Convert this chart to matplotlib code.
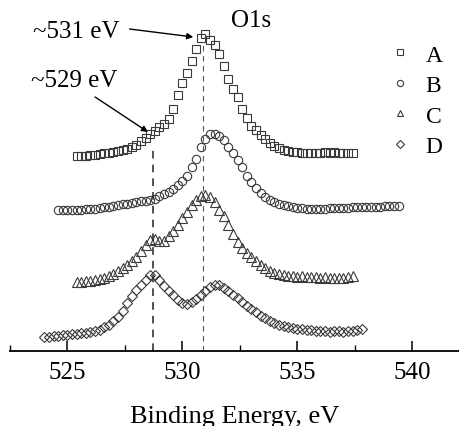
import numpy as np
import matplotlib
matplotlib.use("Agg")
import matplotlib.pyplot as plt
from matplotlib.ticker import MultipleLocator

plt.rcParams['font.family'] = ['Liberation Serif', 'DejaVu Serif']

# O1s spectra, binding energy (eV) and intensity (arb. units, baseline ~0)
energy_a = np.round(np.arange(525.4, 537.41, 0.2), 1)
counts_a = [0, 0, 0.5, 1, 1.5, 2, 3, 3.5, 4.5, 5, 6, 7, 9, 11.5, 15, 18, 22, 25,
            29, 32, 37, 47, 61, 73, 83, 95, 107, 118, 122, 116, 111, 102, 90, 77,
            67, 59, 47, 38, 30, 26, 21, 17, 13, 10, 8, 6, 5, 4, 4, 3.5, 3, 3.5,
            3, 3.5, 4, 3, 4, 3, 3.5, 3, 3]

energy_b = np.round(np.arange(524.6, 539.41, 0.2), 1)
counts_b = [0, 0, 0, 0, 0.5, 0.5, 1, 1, 1.5, 2, 3, 3.5, 4, 5, 6, 6.5, 7, 8, 9,
            9.5, 10.5, 11.5, 14, 16, 18, 21, 25, 29, 34, 43, 51, 63, 71, 76, 76,
            74, 70, 63, 57, 50, 43, 34, 28, 22, 17, 13, 10, 8, 6, 5, 4, 3, 2.5,
            2, 1.5, 1, 1, 1.5, 1.5, 2, 2, 2, 2.5, 2.5, 3, 3, 3, 3, 3.5, 3.5, 3.5,
            4, 4, 4, 4]

energy_c = np.round(np.arange(525.4, 537.41, 0.2), 1)
counts_c = [0, 0.5, 1, 1.5, 2, 3, 4.5, 6, 8, 11, 14, 17, 21, 25, 31, 37, 42, 43,
            41, 41, 46, 51, 57, 64, 70, 77, 82, 86, 87, 85, 80, 72, 66, 57, 48,
            40, 34, 29, 25, 21, 17, 14, 11, 9, 8, 7, 6.5, 6, 5.5, 6, 5, 5.5, 5,
            4.5, 5, 4, 4.5, 4, 4.5, 5, 6]

energy_d = np.round(np.arange(524.0, 537.81, 0.2), 1)
counts_d = [0, 0.5, 1, 1.5, 2, 2.5, 3, 3.5, 4, 4.5, 5, 6, 7.5, 10, 12.5, 16, 20,
            26, 34, 41, 47, 52, 57, 62, 62, 57, 51, 46, 42, 37, 34, 33, 35, 38,
            42, 46, 50, 52, 52, 49, 46, 42, 39, 35, 31, 28, 25, 21, 19, 16, 14,
            12, 11, 10, 9, 8, 8, 7, 7, 6, 6.5, 6, 5.5, 6, 6, 5.5, 6, 6.5, 7, 8]

labels = ['A', 'B', 'C', 'D']
offsets = [195, 141, 69, 14]
markers = ['s', 'o', '^', 'D']
sizes = [6, 6, 6.5, 5.5]

peak_lines = [528.7, 530.9]

fig = plt.figure(figsize=(4.6, 4.27), dpi=100)
ax = fig.add_axes([10 / 460, 1 - 352 / 427, 450 / 460, 352 / 427])

series = [(energy_a, counts_a), (energy_b, counts_b),
          (energy_c, counts_c), (energy_d, counts_d)]
for (e, c), off, m, ms, lab in zip(series, offsets, markers, sizes, labels):
    ax.plot(e, np.array(c) + off, linestyle='none', marker=m, ms=ms,
            mfc='none', mec='#3a3a3a', mew=0.8, label=lab)

# dashed guides at the two components
ax.vlines(peak_lines[0], 0, 204, colors='#222222', linestyles=(0, (5, 4)), lw=1.1)
ax.vlines(peak_lines[1], 0, 307, colors='#555555', linestyles=(0, (5, 4)), lw=0.8)

# annotations
ax.text(525.4, 320, '~531 eV', fontsize=18, ha='center', va='center')
ax.annotate('', xy=(530.47, 314), xytext=(527.7, 322),
            arrowprops=dict(arrowstyle='-|>', color='black', lw=1.0,
                            mutation_scale=9, shrinkA=0, shrinkB=0))
ax.text(525.3, 271, '~529 eV', fontsize=18, ha='center', va='center')
ax.annotate('', xy=(528.5, 219), xytext=(526.2, 254),
            arrowprops=dict(arrowstyle='-|>', color='black', lw=1.0,
                            mutation_scale=9, shrinkA=0, shrinkB=0))
ax.text(533.0, 331, 'O1s', fontsize=18, ha='center', va='center')

ax.set_xlim(522.5, 542.07)
ax.set_ylim(0, 352)
for s in ['left', 'right', 'top']:
    ax.spines[s].set_visible(False)
ax.spines['bottom'].set_linewidth(1.3)
ax.set_yticks([])
ax.xaxis.set_major_locator(MultipleLocator(5))
ax.xaxis.set_minor_locator(MultipleLocator(2.5))
ax.tick_params(axis='x', which='major', direction='in', length=7, width=1.1,
               labelsize=18, pad=7)
ax.tick_params(axis='x', which='minor', direction='in', length=4, width=1.0)
ax.set_xlabel('Binding Energy, eV', fontsize=19, labelpad=16)

ax.legend(loc='upper left', bbox_to_anchor=(388 / 460, 1 - 45 / 427),
          bbox_transform=fig.transFigure, frameon=False, fontsize=17,
          handlelength=1.0, handletextpad=0.6, labelspacing=0.38,
          borderpad=0, borderaxespad=0, markerscale=0.75)

fig.savefig('out.png', dpi=100)
